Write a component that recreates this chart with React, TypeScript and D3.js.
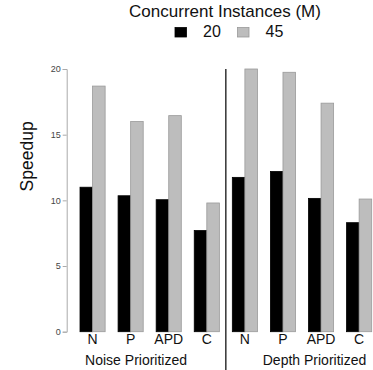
import React, { useEffect, useRef } from 'react';
import * as d3 from 'd3';

const methods = ['N', 'P', 'APD', 'C'];
const panels = ['Noise Prioritized', 'Depth Prioritized'];
const series = ['20', '45'];
const noise20 = [11.0, 10.35, 10.05, 7.7];
const noise45 = [18.7, 16.0, 16.45, 9.8];
const depth20 = [11.75, 12.2, 10.15, 8.3];
const depth45 = [20.0, 19.75, 17.4, 10.1];
const yTicks = [0, 5, 10, 15, 20];

const colors = { '20': '#000000', '45': '#bdbdbd' };
const strokes = { '20': '#000000', '45': '#9a9a9a' };

const App = () => {
  const ref = useRef(null);

  useEffect(() => {
    const svg = d3.select(ref.current);
    svg.selectAll('*').remove();
    const width = 373;
    const height = 370;
    const font = '"Liberation Sans", Arial, Helvetica, sans-serif';

    const rows = [
      ...methods.map((m, i) => ({ key: `noise-${m}`, label: m, v20: noise20[i], v45: noise45[i] })),
      ...methods.map((m, i) => ({ key: `depth-${m}`, label: m, v20: depth20[i], v45: depth45[i] })),
    ];

    const x = d3.scaleBand()
      .domain(rows.map(d => d.key))
      .range([80, 371.7])
      .paddingInner(0.34)
      .paddingOuter(0);

    const inner = d3.scaleBand()
      .domain(series)
      .range([0, x.bandwidth()]);

    const y = d3.scaleLinear()
      .domain([0, 20])
      .range([331.7, 69]);

    svg.attr('width', width).attr('height', height).style('font-family', font);

    // title + legend
    svg.append('text')
      .attr('x', 225)
      .attr('y', 16.5)
      .attr('text-anchor', 'middle')
      .attr('font-size', 17)
      .attr('fill', '#111')
      .text('Concurrent Instances (M)');

    const legendX = { '20': 175, '45': 237.5 };
    series.forEach(s => {
      svg.append('rect')
        .attr('x', legendX[s])
        .attr('y', 27.5)
        .attr('width', 11.5)
        .attr('height', 9.5)
        .attr('fill', colors[s])
        .attr('stroke', strokes[s])
        .attr('stroke-width', 0.8);
      svg.append('text')
        .attr('x', legendX[s] + 28)
        .attr('y', 37.3)
        .attr('font-size', 16)
        .attr('fill', '#111')
        .text(s);
    });

    // y axis
    const yAxis = g => g
      .attr('transform', 'translate(66.7,0)')
      .call(d3.axisLeft(y).tickValues(yTicks).tickSize(4).tickPadding(2))
      .call(g => g.select('.domain').attr('stroke', '#aaa'))
      .call(g => g.selectAll('.tick line').attr('stroke', '#aaa'))
      .call(g => g.selectAll('.tick text')
        .attr('font-size', 9)
        .attr('font-family', font)
        .attr('fill', '#444'));
    svg.append('g').call(yAxis);

    svg.append('text')
      .attr('transform', `translate(33,${y(10) - 44}) rotate(-90)`)
      .attr('text-anchor', 'middle')
      .attr('font-size', 17.5)
      .attr('fill', '#111')
      .text('Speedup');

    // bars
    const groups = svg.append('g')
      .selectAll('g')
      .data(rows)
      .join('g')
      .attr('transform', d => `translate(${x(d.key)},0)`);

    groups.selectAll('rect')
      .data(d => series.map(s => ({ s, v: s === '20' ? d.v20 : d.v45 })))
      .join('rect')
      .attr('x', d => inner(d.s))
      .attr('y', d => y(d.v))
      .attr('width', inner.bandwidth())
      .attr('height', d => y(0) - y(d.v))
      .attr('fill', d => colors[d.s])
      .attr('stroke', d => strokes[d.s])
      .attr('stroke-width', 0.8);

    // category labels
    svg.append('g')
      .selectAll('text')
      .data(rows)
      .join('text')
      .attr('x', d => x(d.key) + x.bandwidth() / 2)
      .attr('y', 343.5)
      .attr('text-anchor', 'middle')
      .attr('font-size', 14)
      .attr('fill', '#111')
      .text(d => d.label);

    // divider between panels
    const divX = (x('noise-C') + x.bandwidth() + x('depth-N')) / 2;
    svg.append('line')
      .attr('x1', divX)
      .attr('x2', divX)
      .attr('y1', y(20))
      .attr('y2', height)
      .attr('stroke', '#000')
      .attr('stroke-width', 1.2);

    // panel labels
    const panelX = [x('noise-P') + 18, x('depth-APD') + 6];
    svg.append('g')
      .selectAll('text')
      .data(panels)
      .join('text')
      .attr('x', (d, i) => panelX[i])
      .attr('y', 365)
      .attr('text-anchor', 'middle')
      .attr('font-size', 14)
      .attr('fill', '#111')
      .text(d => d);
  }, []);

  return (
    <svg ref={ref} style={{ position: 'absolute', left: 0, top: 0 }}></svg>
  );
};

export default App;
